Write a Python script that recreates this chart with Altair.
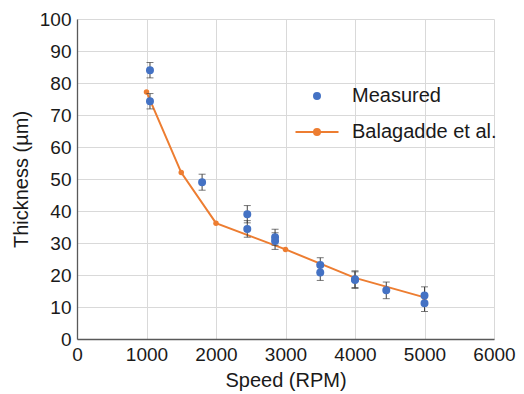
import altair as alt
import pandas as pd

# Measured data (speed RPM, thickness µm, error half-length)
meas_speed = [1050, 1050, 1800, 2450, 2450, 2850, 2850, 3500, 3500, 4000, 4000, 4450, 5000, 5000]
meas_thick = [84.0, 74.3, 49.0, 39.0, 34.4, 31.8, 30.6, 23.1, 20.8, 18.7, 18.4, 15.2, 13.6, 11.2]
meas_err = [2.4, 2.4, 2.5, 2.7, 2.6, 2.5, 2.6, 2.3, 2.5, 2.6, 2.6, 2.6, 2.7, 2.6]

# Balagadde et al. model curve
bal_speed = [1000, 1500, 2000, 3000, 4000, 5000]
bal_thick = [77.2, 52.0, 36.2, 28.0, 19.1, 13.0]

# Axis tick labels
x_ticks = [0, 1000, 2000, 3000, 4000, 5000, 6000]
y_ticks = [0, 10, 20, 30, 40, 50, 60, 70, 80, 90, 100]

series_names = ["Measured", "Balagadde et al."]
blue = "#4472C4"
orange = "#ED7D31"

meas = pd.DataFrame({
    "speed": meas_speed,
    "thick": meas_thick,
    "lo": [t - e for t, e in zip(meas_thick, meas_err)],
    "hi": [t + e for t, e in zip(meas_thick, meas_err)],
    "series": "Measured",
})
bal = pd.DataFrame({"speed": bal_speed, "thick": bal_thick, "series": "Balagadde et al."})

circle_path = "M-0.3,0A0.3,0.3 0 1,1 0.3,0A0.3,0.3 0 1,1 -0.3,0Z"
line_dot_path = "M-2.15,0L2.15,0M-0.3,0A0.3,0.3 0 1,1 0.3,0A0.3,0.3 0 1,1 -0.3,0Z"

xs = alt.Scale(domain=[0, 6000], nice=False, zero=False)
ys = alt.Scale(domain=[0, 100], nice=False)

x_axis = alt.Axis(title="Speed (RPM)", values=x_ticks,
                  format="d", ticks=False, labelPadding=6, titlePadding=6,
                  labelOverlap=False, labelFlush=False)
y_axis = alt.Axis(title="Thickness (µm)", values=y_ticks, tickCount=11,
                  ticks=False, labelPadding=6, titlePadding=8,
                  labelOverlap=False, labelFlush=False)


def X(field):
    return alt.X(field, scale=xs, axis=x_axis)


def Y(field):
    return alt.Y(field, scale=ys, axis=y_axis)


line = alt.Chart(bal).mark_line(
    color=orange, strokeWidth=2,
    point=alt.OverlayMarkDef(filled=True, size=30, color=orange, opacity=1),
).encode(x=X("speed:Q"), y=Y("thick:Q"))

err_rule = alt.Chart(meas).mark_rule(color="#404040", strokeWidth=1).encode(
    x=X("speed:Q"), y=Y("lo:Q"), y2="hi:Q"
)
cap_lo = alt.Chart(meas).mark_tick(color="#404040", orient="horizontal", size=7, thickness=1).encode(
    x=X("speed:Q"), y=Y("lo:Q")
)
cap_hi = alt.Chart(meas).mark_tick(color="#404040", orient="horizontal", size=7, thickness=1).encode(
    x=X("speed:Q"), y=Y("hi:Q")
)

legend = alt.Legend(
    title=None, orient="none", legendX=229, legendY=66, padding=0,
    labelFontSize=20, labelFont="Liberation Sans", labelColor="#1a1a1a",
    labelOffset=24, rowPadding=15, symbolStrokeWidth=2, symbolSize=400,
)
pts = alt.Chart(meas).mark_point(filled=True, strokeWidth=2, size=400, opacity=1).encode(
    x=X("speed:Q"),
    y=Y("thick:Q"),
    fill=alt.Fill("series:N", scale=alt.Scale(domain=series_names, range=[blue, orange]), legend=legend),
    stroke=alt.Stroke("series:N", scale=alt.Scale(domain=series_names, range=[blue, orange]), legend=legend),
    shape=alt.Shape("series:N", scale=alt.Scale(domain=series_names, range=[circle_path, line_dot_path]), legend=legend),
)

chart = alt.layer(line, err_rule, cap_lo, cap_hi, pts).properties(
    width=417, height=320,
    autosize=alt.AutoSizeParams(type="none"),
    padding={"left": 69, "top": 11, "right": 22, "bottom": 60},
).configure_view(stroke=None).configure_axis(
    labelFont="Liberation Sans", titleFont="Liberation Sans",
    labelFontSize=19, titleFontSize=20, labelColor="#1a1a1a", titleColor="#1a1a1a",
    titleFontWeight="normal", domainColor="#595959", domainWidth=1.3,
    gridColor="#d9d9d9", gridWidth=1,
)

chart.save("out.html", embed_options={"renderer": "svg", "actions": False})
